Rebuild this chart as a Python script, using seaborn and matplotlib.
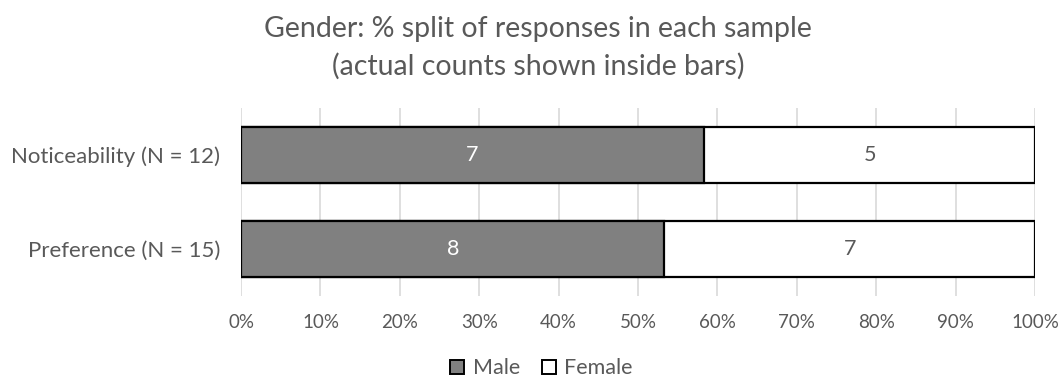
import matplotlib
matplotlib.use("Agg")
import matplotlib.pyplot as plt
from matplotlib.patches import Patch
import seaborn as sns
import pandas as pd

samples = ["Noticeability (N = 12)", "Preference (N = 15)"]
male_counts = [7, 8]
female_counts = [5, 7]
tick_labels = ["0%", "10%", "20%", "30%", "40%", "50%", "60%", "70%", "80%", "90%", "100%"]

totals = [m + f for m, f in zip(male_counts, female_counts)]
df = pd.DataFrame({
    "sample": samples,
    "male_pct": [100 * m / t for m, t in zip(male_counts, totals)],
    "total_pct": [100.0 for _ in totals],
})

sns.set_theme(style="white")
plt.rcParams["font.family"] = ["Lato", "DejaVu Sans"]
text_color = "#595959"

fig = plt.figure(figsize=(10.6, 3.79), dpi=100)
ax = fig.add_axes([0.2274, 0.2203, 0.7490, 0.4947])

# full-width bar (female share shows through to the right of the male segment)
sns.barplot(data=df, x="total_pct", y="sample", orient="h", color="white",
            edgecolor="black", linewidth=1.6, width=0.6, ax=ax, zorder=2)
sns.barplot(data=df, x="male_pct", y="sample", orient="h", color="#808080",
            saturation=1, edgecolor="black", linewidth=1.6, width=0.6, ax=ax, zorder=3)

for i, (m, f, mp) in enumerate(zip(male_counts, female_counts, df["male_pct"])):
    ax.text(mp / 2, i, str(m), ha="center", va="center", color="white", fontsize=15.5, zorder=4)
    ax.text(mp + (100 - mp) / 2, i, str(f), ha="center", va="center", color=text_color,
            fontsize=15.5, zorder=4)

ax.set_xlim(0, 100)
ax.set_ylim(1.5, -0.5)
ax.set_xticks(range(0, 101, 10))
ax.set_xticklabels(tick_labels)
ax.tick_params(axis="x", colors=text_color, labelsize=13.5, length=0, pad=13)
ax.tick_params(axis="y", colors=text_color, labelsize=16, length=0, pad=15)
ax.set_xlabel("")
ax.set_ylabel("")
ax.xaxis.grid(True, color="#d9d9d9", linewidth=1.2, zorder=0)
ax.set_axisbelow(True)
for s in ax.spines.values():
    s.set_visible(False)

fig.suptitle("Gender: % split of responses in each sample\n(actual counts shown inside bars)",
             x=0.5075, y=0.958, fontsize=20.5, color=text_color, linespacing=1.5)

handles = [Patch(facecolor="#808080", edgecolor="black", linewidth=1.4, label="Male"),
           Patch(facecolor="white", edgecolor="black", linewidth=1.4, label="Female")]
fig.legend(handles=handles, loc="center", bbox_to_anchor=(0.511, 0.028), ncol=2, frameon=False,
           fontsize=15.5, labelcolor=text_color, handlelength=0.65, handleheight=0.65,
           handletextpad=0.4, columnspacing=1.0)

fig.savefig("out.png", dpi=100)
